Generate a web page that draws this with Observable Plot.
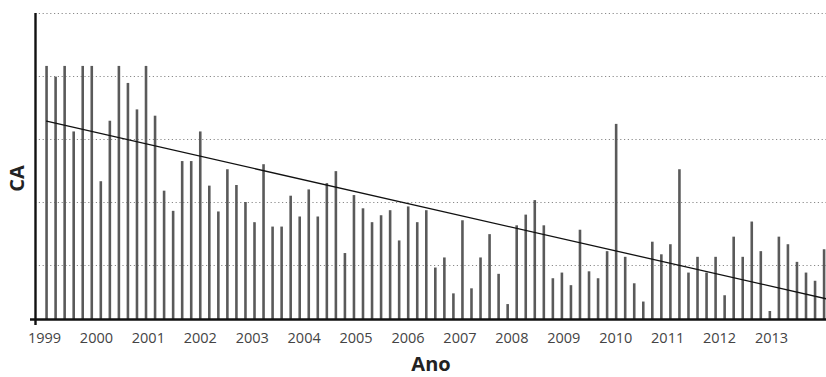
<!DOCTYPE html>
<html>
<head>
<meta charset="utf-8">
<script src="https://cdn.jsdelivr.net/npm/d3@7"></script>
<script src="https://cdn.jsdelivr.net/npm/@observablehq/plot@0.6"></script>
<style>
  html, body { margin: 0; padding: 0; background: #fff; }
</style>
</head>
<body>
<div id="chart"></div>
<script>
// CA values (in grid-line units; gridlines at 1..5), 87 evenly spaced samples 1999–2013
const caValues = [
  4.16, 3.99, 4.16, 3.12, 4.16, 4.16, 2.33, 3.29, 4.16, 3.89,
  3.47, 4.16, 3.37, 2.18, 1.86, 2.65, 2.65, 3.12, 2.26, 1.85,
  2.52, 2.27, 2.00, 1.68, 2.60, 1.61, 1.61, 2.10, 1.77, 2.20,
  1.77, 2.30, 2.49, 1.19, 2.11, 1.90, 1.68, 1.79, 1.87, 1.39,
  1.93, 1.68, 1.87, 0.96, 1.12, 0.55, 1.71, 0.63, 1.12, 1.49,
  0.86, 0.38, 1.63, 1.80, 2.03, 1.63, 0.79, 0.88, 0.68, 1.56,
  0.90, 0.79, 1.22, 3.24, 1.13, 0.71, 0.42, 1.37, 1.17, 1.33,
  2.52, 0.88, 1.13, 0.88, 1.13, 0.52, 1.45, 1.13, 1.69, 1.22,
  0.27, 1.45, 1.33, 1.05, 0.88, 0.75, 1.25
];
const firstTime = 1999.04;     // time of first sample (years)
const sampleStep = 0.1741;     // years between samples
const yearTicks = [1999, 2000, 2001, 2002, 2003, 2004, 2005, 2006, 2007, 2008, 2009, 2010, 2011, 2012, 2013];
const gridValues = [1, 2, 3, 4, 5];
const baseline = 0.143;
const xDomain = [1998.827, 2014.059];
const yDomain = [baseline, 5];
// trend line end points (time, value)
const trendTimes = [1999.04, 2014.059];
const trendValues = [3.29, 0.47];

const data = caValues.map((v, i) => ({t: firstTime + i * sampleStep, v}));
const trend = trendTimes.map((t, i) => ({t, v: trendValues[i]}));

const chart = Plot.plot({
  width: 826,
  height: 377,
  marginLeft: 35,
  marginRight: 0,
  marginTop: 13,
  marginBottom: 58,
  style: {fontFamily: "'Open Sans', sans-serif", background: "#fff"},
  x: {domain: xDomain},
  y: {domain: yDomain},
  marks: [
    Plot.gridY(gridValues, {stroke: "#8a8a8a", strokeOpacity: 1, strokeDasharray: "1.2,2.6", strokeWidth: 1}),
    Plot.ruleX(data, {x: "t", y1: baseline, y2: "v", stroke: "#5a5a5a", strokeWidth: 2.6}),
    Plot.line(trend, {x: "t", y: "v", stroke: "#111", strokeWidth: 1.3}),
    Plot.ruleX([xDomain[0]], {stroke: "#111", strokeWidth: 2.4, insetBottom: -6}),
    Plot.ruleY([baseline], {stroke: "#111", strokeWidth: 2.6, insetLeft: -5}),
    Plot.axisX(yearTicks, {tickSize: 0, tickPadding: 13, fontSize: 14.5, fill: "#444", label: null, tickFormat: d => String(d)}),
    Plot.axisY({ticks: [], label: null}),
    Plot.text(["Ano"], {frameAnchor: "bottom", dy: 51, text: d => d, fontSize: 20, fontWeight: "bold", fill: "#222"}),
    Plot.text(["CA"], {frameAnchor: "left", textAnchor: "middle", dx: -18, dy: 12, rotate: -90, text: d => d, fontSize: 20, fontWeight: "bold", fill: "#222"})
  ]
});
document.getElementById("chart").appendChild(chart);
</script>
</body>
</html>
